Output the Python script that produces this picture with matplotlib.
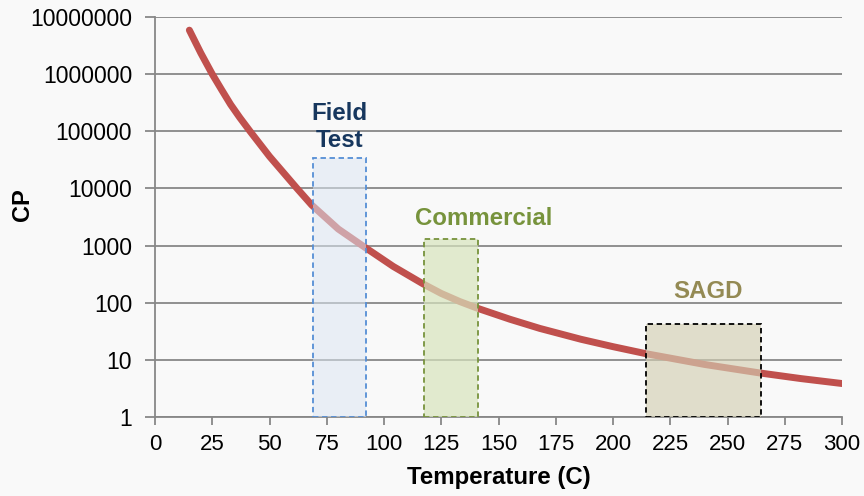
import matplotlib
matplotlib.use("Agg")
import matplotlib.pyplot as plt

plt.rcParams['font.family'] = ['Liberation Sans', 'DejaVu Sans']

# viscosity curve
temp = [15, 20, 25, 29, 33, 37, 41.5, 50, 62, 68.4, 80, 90.5, 104, 117, 125,
        133, 141, 155, 168, 186, 200, 214, 240, 264, 282, 300]
cp = [5.89e6, 2.34e6, 1.0e6, 5.4e5, 2.95e5, 1.74e5, 1.0e5, 3.63e4, 1.0e4,
      5130, 1950, 1000, 432, 214, 145, 105, 79.4, 51.3, 35.5, 22.9, 17.0,
      12.9, 8.3, 5.9, 4.7, 3.85]

# operating windows
win_names = ['Field\nTest', 'Commercial', 'SAGD']
win_lo = [69, 117.5, 214.5]
win_hi = [92, 141, 264.5]
win_top = [34000, 1300, 43]
win_label_x = [80.5, 143.5, 241.5]
win_label_y = [1.2e5, 3000, 160]

fill_cols = ['#dce6f2', '#d7e4bd', '#d3cfb3']
fill_alpha = [0.55, 0.7, 0.65]
edge_cols = ['#558ed5', '#77933c', '#000000']
text_cols = ['#17375e', '#77933c', '#948a54']

bg = '#f9f9f9'
grey = '#878787'

fig = plt.figure(figsize=(8.64, 4.96), dpi=100, facecolor=bg)
ax = fig.add_axes([0.1794, 0.1593, 0.7953, 0.8064], facecolor=bg)

ax.plot(temp, cp, color='#c0504d', lw=5, solid_capstyle='round',
        solid_joinstyle='round', zorder=2)

for i in range(3):
    ax.bar(win_lo[i], win_top[i] - 1, bottom=1, width=win_hi[i] - win_lo[i],
           align='edge', color=fill_cols[i], alpha=fill_alpha[i], zorder=3)
    ax.bar(win_lo[i], win_top[i] - 1, bottom=1, width=win_hi[i] - win_lo[i],
           align='edge', fill=False, edgecolor=edge_cols[i], lw=1.3,
           linestyle=(0, (3, 2)), zorder=4)
    ax.text(win_label_x[i], win_label_y[i], win_names[i], color=text_cols[i],
            fontsize=17.3, fontweight='bold', ha='center', va='center')

ax.set_yscale('log')
ax.set_ylim(1, 1e7)
ax.set_xlim(0, 300)
ax.set_xticks(range(0, 301, 25))
ax.set_yticks([10 ** k for k in range(8)])
ax.set_yticklabels([str(10 ** k) for k in range(8)])
ax.minorticks_off()

ax.grid(axis='y', color=grey, lw=1.3, zorder=0)
ax.set_axisbelow(True)
for s in ['top', 'right']:
    ax.spines[s].set_visible(False)
for s in ['left', 'bottom']:
    ax.spines[s].set_color(grey)
    ax.spines[s].set_linewidth(1.3)
ax.tick_params(axis='x', color=grey, width=1.3, length=6, labelsize=16, pad=6)
ax.tick_params(axis='y', color=grey, width=1.3, length=7, labelsize=16.5, pad=9.5)

ax.set_xlabel('Temperature (C)', fontsize=17.3, fontweight='bold', labelpad=8)
ax.set_ylabel('CP', fontsize=17, fontweight='bold')
ax.yaxis.set_label_coords(-0.176, 0.53)

fig.savefig('out.png', dpi=100, facecolor=bg)
